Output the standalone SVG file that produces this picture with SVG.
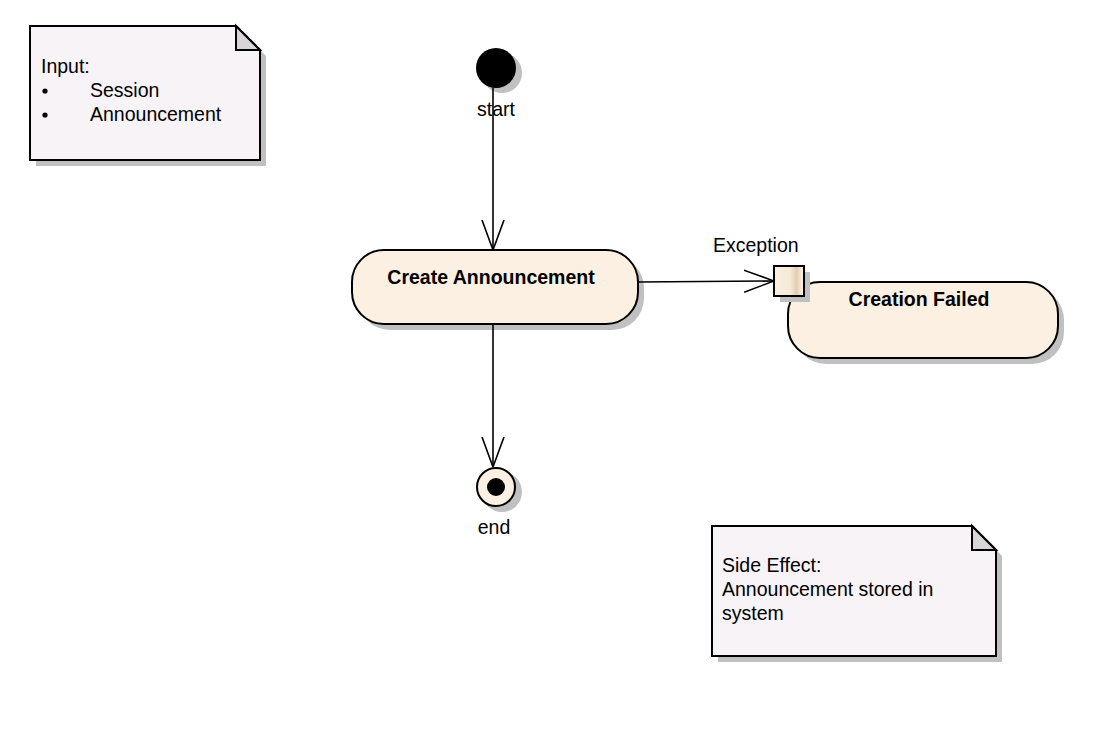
<svg xmlns="http://www.w3.org/2000/svg" width="1114" height="735" viewBox="0 0 1114 735">
<style>
  text { font-family: "Liberation Sans", Arial, sans-serif; font-size: 19.5px; fill: #000; }
  .b { font-weight: bold; }
  .note { fill: #f7f3f7; stroke: #000; stroke-width: 2; }
  .fold { fill: #d8d4d8; stroke: #000; stroke-width: 2; stroke-linejoin: miter; }
  .shadow { fill: #c0c0c0; stroke: none; }
  .act { fill: #fbf0e2; stroke: #000; stroke-width: 2; }
  .edge { fill: none; stroke: #000; stroke-width: 1.6; }
</style>
<defs>
  <marker id="open" viewBox="0 0 30 24" refX="30" refY="12" markerWidth="30" markerHeight="24" markerUnits="userSpaceOnUse" orient="auto">
    <path d="M0,1 L30,12 L0,23" fill="none" stroke="#000" stroke-width="1.6"/>
  </marker>
  <linearGradient id="pinGrad" x1="0" y1="0" x2="1" y2="0">
    <stop offset="0" stop-color="#fbf0e2"/>
    <stop offset="0.55" stop-color="#f6e8d6"/>
    <stop offset="0.75" stop-color="#e2cdb3"/>
    <stop offset="0.9" stop-color="#f6e8d6"/>
    <stop offset="1" stop-color="#fbf0e2"/>
  </linearGradient>
</defs>
<rect width="1114" height="735" fill="#fff"/>

<g id="note-input">
  <path class="shadow" d="M36,32 L242,32 L266,56 L266,166 L36,166 Z"/>
  <path class="note" d="M30,26 L236,26 L260,50 L260,160 L30,160 Z"/>
  <path class="fold" d="M236,26 L236,50 L260,50 Z"/>
  <text x="41" y="73">Input:</text>
  <circle cx="45" cy="91" r="2.6" fill="#000"/>
  <text x="90" y="97">Session</text>
  <circle cx="45" cy="115" r="2.6" fill="#000"/>
  <text x="90" y="121">Announcement</text>
</g>

<g id="start">
  <circle cx="502" cy="73" r="20" class="shadow"/>
  <circle cx="496" cy="68" r="20" fill="#000"/>
  <text x="496" y="116" text-anchor="middle">start</text>
</g>

<g id="create-announcement">
  <rect x="358" y="256" width="286" height="74" rx="32" ry="32" class="shadow"/>
  <rect x="352" y="250" width="286" height="74" rx="32" ry="32" class="act"/>
  <text x="491" y="284" text-anchor="middle" class="b">Create Announcement</text>
</g>

<g id="creation-failed">
  <rect x="794" y="288" width="270" height="76" rx="32" ry="32" class="shadow"/>
  <rect x="788" y="282" width="270" height="76" rx="32" ry="32" class="act"/>
  <text x="919" y="306" text-anchor="middle" class="b">Creation Failed</text>
</g>

<g id="exception-pin">
  <rect x="780" y="272" width="30" height="30" class="shadow"/>
  <rect x="774" y="266" width="30" height="30" fill="url(#pinGrad)" stroke="#000" stroke-width="2"/>
  <text x="713" y="252">Exception</text>
</g>

<g id="end">
  <circle cx="502" cy="492" r="20" class="shadow"/>
  <circle cx="496" cy="487" r="19" fill="#fbf0e2" stroke="#000" stroke-width="2"/>
  <circle cx="496" cy="487" r="9" fill="#000"/>
  <text x="494" y="534" text-anchor="middle">end</text>
</g>

<g id="note-side-effect">
  <path class="shadow" d="M718,532 L978,532 L1002,556 L1002,662 L718,662 Z"/>
  <path class="note" d="M712,526 L972,526 L996,550 L996,656 L712,656 Z"/>
  <path class="fold" d="M972,526 L972,550 L996,550 Z"/>
  <text x="722" y="572">Side Effect:</text>
  <text x="722" y="596">Announcement stored in</text>
  <text x="722" y="620">system</text>
</g>

<g id="connectors">
  <path class="edge" d="M493,88 L493,250" marker-end="url(#open)"/>
  <path class="edge" d="M638,282 L774,281" marker-end="url(#open)"/>
  <path class="edge" d="M493,324 L493,467" marker-end="url(#open)"/>
</g>
</svg>
